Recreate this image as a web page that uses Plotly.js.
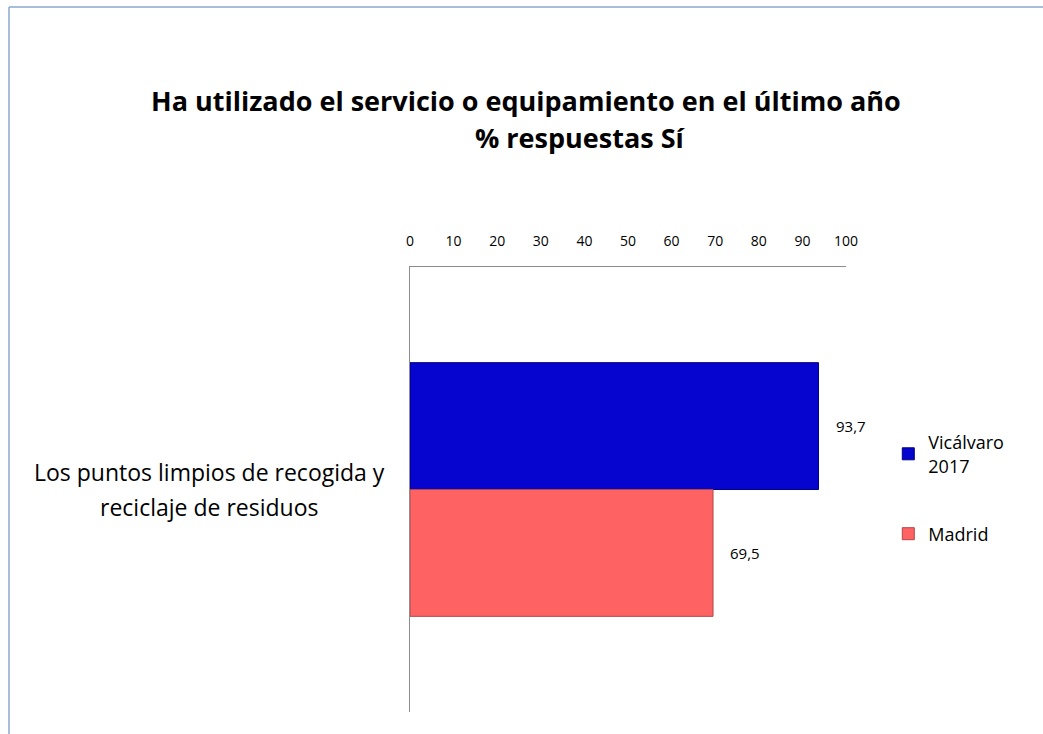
<!DOCTYPE html>
<html>
<head>
<meta charset="utf-8">
<script src="https://cdn.plot.ly/plotly-3.0.1.min.js"></script>
<style>
html,body{margin:0;padding:0;background:#fff;}
#chart{width:1043px;height:734px;}
</style>
</head>
<body>
<div id="chart"></div>
<script>
const categories = ["Los puntos limpios de recogida y<br>reciclaje de residuos"];
const seriesNames = ["Vicálvaro<br>2017", "Madrid"];
const vicalvaro = [93.7];
const madrid = [69.5];
const xTicks = [0, 10, 20, 30, 40, 50, 60, 70, 80, 90, 100];
const titleLine1 = "Ha utilizado el servicio o equipamiento en el último año";
const titleLine2 = "% respuestas Sí";

const FONT = "'Open Sans', Lato, sans-serif";
const fmt = v => v.toFixed(1).replace('.', ',');

const traces = [
  {
    type: 'bar', orientation: 'h', name: seriesNames[0],
    y: categories, x: vicalvaro,
    marker: {color: '#0505CF', line: {color: '#02027A', width: 1}},
    legend: 'legend', hoverinfo: 'x+name'
  },
  {
    type: 'bar', orientation: 'h', name: seriesNames[1],
    y: categories, x: madrid,
    marker: {color: '#FF6262', line: {color: '#B04646', width: 1}},
    legend: 'legend2', hoverinfo: 'x+name'
  }
];

const annotations = [
  {xref: 'paper', yref: 'paper', x: 0.266, y: 1.375, text: '<b>' + titleLine1 + '</b>',
   showarrow: false, font: {family: FONT, size: 27, color: '#000'}, xanchor: 'center', yanchor: 'middle'},
  {xref: 'paper', yref: 'paper', x: 0.39, y: 1.292, text: '<b>' + titleLine2 + '</b>',
   showarrow: false, font: {family: FONT, size: 27, color: '#000'}, xanchor: 'center', yanchor: 'middle'}
];

// category label lines (centred block left of the axis)
categories.forEach(c => {
  const lines = c.split('<br>');
  lines.forEach((ln, i) => {
    annotations.push({
      xref: 'paper', yref: 'y', x: -0.461, y: c, text: ln, showarrow: false,
      xanchor: 'center', yanchor: 'middle',
      yshift: ((lines.length - 1) / 2 - i) * 35,
      font: {family: FONT, size: 23, color: '#000'}
    });
  });
});

// value labels
const allSeries = [vicalvaro, madrid];
allSeries.forEach((s, si) => {
  s.forEach((v, ci) => {
    annotations.push({
      xref: 'x', yref: 'y', x: v, y: categories[ci], text: fmt(v), showarrow: false,
      xanchor: 'left', yanchor: 'middle', xshift: 15,
      yshift: si === 0 ? 64 : -63,
      font: {family: FONT, size: 15, color: '#000'}
    });
  });
});

const layout = {
  width: 1043, height: 734,
  margin: {l: 410, r: 197, t: 267, b: 22, pad: 0},
  paper_bgcolor: '#fff', plot_bgcolor: '#fff',
  barmode: 'group', bargap: 0.43, bargroupgap: 0,
  showlegend: true,
  xaxis: {
    side: 'top', range: [0, 100], tickvals: xTicks, ticktext: xTicks.map(String),
    showgrid: false, zeroline: false, showline: true, linecolor: '#8c8c8c', linewidth: 1,
    ticks: '', ticklabelstandoff: 14,
    tickfont: {family: FONT, size: 14, color: '#000'}, fixedrange: true
  },
  yaxis: {
    autorange: 'reversed', showgrid: false, zeroline: false, showline: true,
    linecolor: '#8c8c8c', linewidth: 1, ticks: '', showticklabels: false, fixedrange: true
  },
  legend: {
    x: 1.097, y: 0.58, xanchor: 'left', yanchor: 'middle',
    font: {family: FONT, size: 18, color: '#000'}, itemwidth: 30, bgcolor: 'rgba(0,0,0,0)'
  },
  legend2: {
    x: 1.097, y: 0.4, xanchor: 'left', yanchor: 'middle',
    font: {family: FONT, size: 18, color: '#000'}, itemwidth: 30, bgcolor: 'rgba(0,0,0,0)'
  },
  annotations: annotations,
  shapes: [
    {type: 'line', xref: 'paper', yref: 'paper', x0: -0.9197, x1: 1.5, y0: 1.584, y1: 1.584,
     line: {color: '#8BA6D0', width: 1.5}},
    {type: 'line', xref: 'paper', yref: 'paper', x0: -0.9197, x1: -0.9197, y0: 1.584, y1: -0.1,
     line: {color: '#8BA6D0', width: 1.5}}
  ]
};

Plotly.newPlot('chart', traces, layout, {displayModeBar: false, staticPlot: true});
</script>
</body>
</html>
